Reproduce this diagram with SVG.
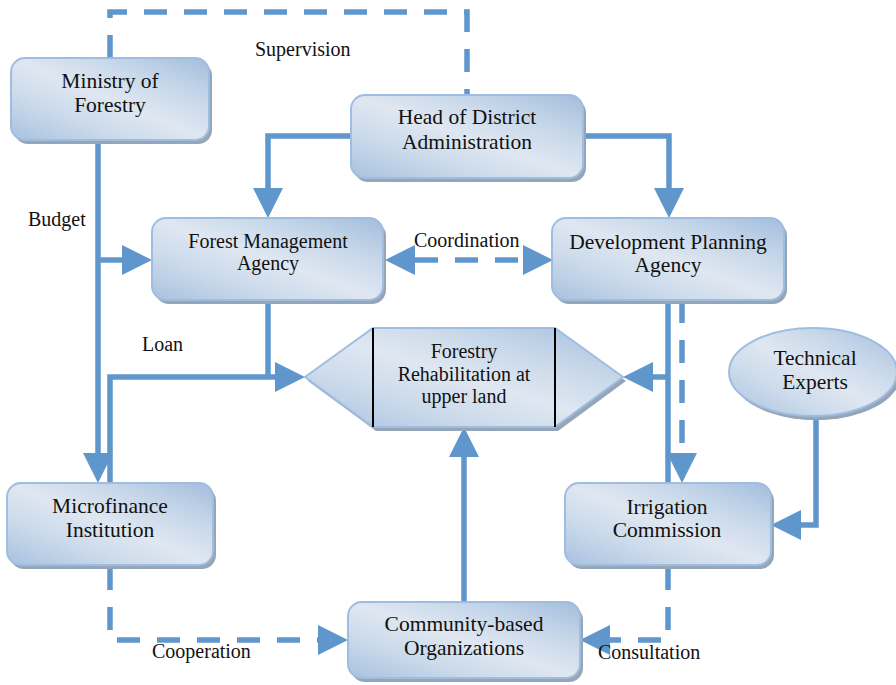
<svg xmlns="http://www.w3.org/2000/svg" width="896" height="685" viewBox="0 0 896 685">
<defs>
<linearGradient id="g" x1="0" y1="1" x2="1" y2="0">
<stop offset="0" stop-color="#a8c1df"/>
<stop offset="0.28" stop-color="#cbdaeb"/>
<stop offset="0.5" stop-color="#dfe7f1"/>
<stop offset="0.72" stop-color="#c8d8ea"/>
<stop offset="1" stop-color="#a3bddc"/>
</linearGradient>
<marker id="ah" viewBox="0 0 30 30" refX="0" refY="15" markerWidth="30" markerHeight="30" markerUnits="userSpaceOnUse" orient="auto-start-reverse">
<path d="M0,0 L30,15 L0,30 Z" fill="#5f96cb"/>
</marker>
</defs>
<style>
.shadow{fill:#96a6b9}
.box{fill:url(#g);stroke:#9fbde0;stroke-width:2}
.t{font-size:21.5px;fill:#111;text-anchor:middle}
.s{font-size:20px}
.lbl{font-size:20px;fill:#111}
.c{fill:none;stroke:#5f96cb;stroke-width:5.5;stroke-linejoin:miter}
.d{stroke-dasharray:23 17}
.a{marker-end:url(#ah)}
.as{marker-start:url(#ah)}
</style>
<rect width="896" height="685" fill="#fff"/>

<g id="connectors">
<path class="c d" d="M110,58 V12 H467 V95"/>
<path class="c a" d="M98,140 V453"/>
<path class="c a" d="M98,260 H122"/>
<path class="c a" d="M351,136 H268 V188"/>
<path class="c a" d="M583,136 H669 V188"/>
<path class="c d a as" d="M415,260 H523"/>
<path class="c" d="M268,300 V377"/>
<path class="c a" d="M110,483 V377 H275"/>
<path class="c" d="M668,300 V483"/>
<path class="c a" d="M670,377 H653"/>
<path class="c d a" d="M682,300 V453"/>
<path class="c a" d="M816,417 V525 H801"/>
<path class="c d a" d="M110,567 V640 H318"/>
<path class="c d a" d="M668,567 V640 H610"/>
<path class="c a" d="M464,602 V457"/>
</g>

<g font-family="'Liberation Serif', 'Times New Roman', 'DejaVu Serif', serif">
<g id="ministry">
<rect class="shadow" x="14" y="62" width="198" height="82" rx="14"/>
<rect class="box" x="11" y="58" width="198" height="82" rx="14"/>
<text class="t" x="110" y="88">Ministry of</text>
<text class="t" x="110" y="112">Forestry</text>
</g>

<g id="head">
<rect class="shadow" x="354" y="99" width="232" height="83" rx="14"/>
<rect class="box" x="351" y="95" width="232" height="83" rx="14"/>
<text class="t" x="467" y="124">Head of District</text>
<text class="t" x="467" y="149">Administration</text>
</g>

<g id="fma">
<rect class="shadow" x="155" y="222" width="231" height="82" rx="14"/>
<rect class="box" x="152" y="218" width="231" height="82" rx="14"/>
<text class="t s" x="268" y="248">Forest Management</text>
<text class="t s" x="268" y="270">Agency</text>
</g>

<g id="dpa">
<rect class="shadow" x="555" y="222" width="232" height="82" rx="14"/>
<rect class="box" x="552" y="218" width="232" height="82" rx="14"/>
<text class="t" x="668" y="249">Development Planning</text>
<text class="t" x="668" y="272">Agency</text>
</g>

<g id="forestry">
<polygon class="shadow" points="308,381 376,332 558,332 626,381 558,431 376,431"/>
<polygon class="box" points="305,377 373,328 555,328 623,377 555,427 373,427"/>
<line x1="373" y1="328" x2="373" y2="427" stroke="#000" stroke-width="2"/>
<line x1="555" y1="328" x2="555" y2="427" stroke="#000" stroke-width="2"/>
<text class="t s" x="464" y="358">Forestry</text>
<text class="t s" x="464" y="381">Rehabilitation at</text>
<text class="t s" x="464" y="403">upper land</text>
</g>

<g id="experts">
<ellipse class="shadow" cx="816" cy="376" rx="84" ry="44"/>
<ellipse class="box" cx="813" cy="372" rx="84" ry="44"/>
<text class="t" x="815" y="365">Technical</text>
<text class="t" x="815" y="389">Experts</text>
</g>

<g id="microfinance">
<rect class="shadow" x="10" y="487" width="206" height="82" rx="14"/>
<rect class="box" x="7" y="483" width="206" height="82" rx="14"/>
<text class="t" x="110" y="513">Microfinance</text>
<text class="t" x="110" y="537">Institution</text>
</g>

<g id="irrigation">
<rect class="shadow" x="568" y="487" width="206" height="82" rx="14"/>
<rect class="box" x="565" y="483" width="206" height="82" rx="14"/>
<text class="t" x="667" y="514">Irrigation</text>
<text class="t" x="667" y="537">Commission</text>
</g>

<g id="cbo">
<rect class="shadow" x="351" y="606" width="232" height="76" rx="14"/>
<rect class="box" x="348" y="602" width="232" height="76" rx="14"/>
<text class="t" x="464" y="631">Community-based</text>
<text class="t" x="464" y="655">Organizations</text>
</g>

<g id="labels">
<text class="lbl" x="255" y="56">Supervision</text>
<text class="lbl" x="28" y="226">Budget</text>
<text class="lbl" x="414" y="247">Coordination</text>
<text class="lbl" x="142" y="351">Loan</text>
<text class="lbl" x="152" y="658">Cooperation</text>
<text class="lbl" x="598" y="659">Consultation</text>
</g>
</g>
</svg>
